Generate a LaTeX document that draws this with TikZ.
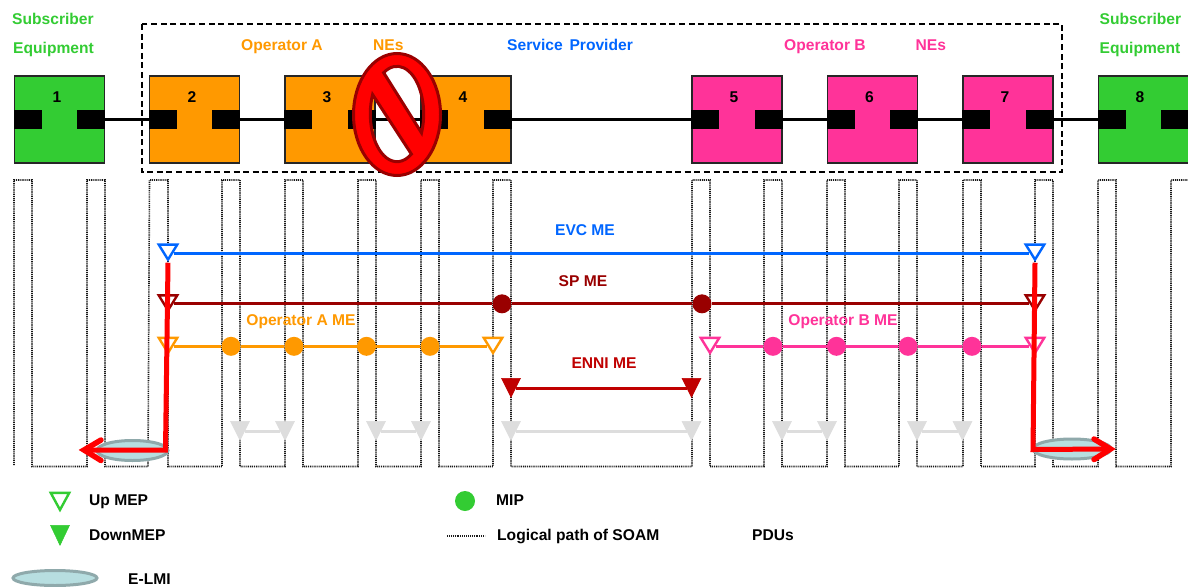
\documentclass[tikz,border=0pt]{standalone}
\usepackage{fontspec}
\setmainfont{Liberation Sans}
\usetikzlibrary{shapes.geometric}
\definecolor{cgreen}{HTML}{33CC33}
\definecolor{corange}{HTML}{FF9900}
\definecolor{cpink}{HTML}{FF3399}
\definecolor{cblue}{HTML}{0066FF}
\definecolor{cdark}{HTML}{990000}
\definecolor{cenni}{HTML}{C00000}
\definecolor{cgray}{HTML}{DDDDDD}
\definecolor{celfill}{HTML}{B7DEE0}
\definecolor{celdraw}{HTML}{8FA9AB}
\tikzset{
  lab/.style={anchor=base west,inner sep=0pt,font=\fontsize{15.6}{18}\selectfont\bfseries},
  clab/.style={lab,anchor=base},
  nebox/.style={draw=black!85,line width=1.8pt,minimum width=90pt,minimum height=87pt,inner sep=0pt},
  port/.style={fill=black,minimum width=28pt,minimum height=19pt,inner sep=0pt},
  link/.style={draw=black,line width=2.3pt},
  tri/.style={isosceles triangle,isosceles triangle stretches,shape border rotate=270,
     anchor=apex,minimum width=18.5pt,minimum height=15pt,inner sep=0pt},
  upmep/.style={tri,draw=#1,fill=white,line width=2.4pt},
  downmep/.style={tri,fill=#1,draw=#1,line width=.5pt,minimum width=19pt,minimum height=19pt},
  mip/.style={circle,fill=#1,minimum size=19pt,inner sep=0pt},
  meline/.style={draw=#1,line width=3pt},
  logical/.style={draw=black!90,line width=1.6pt,dash pattern=on 1pt off .9pt},
  elmi/.style={ellipse,draw=celdraw,fill=celfill,line width=3pt,inner sep=0pt},
  redpath/.style={draw=red,line width=5pt,line join=miter},
  redbarb/.style={draw=red,line width=5.5pt,line cap=round,line join=miter},
}
\begin{document}
\begin{tikzpicture}[x=1pt,y=-1pt]
\path[use as bounding box,clip] (0,0) rectangle (1188,586);
\fill[white] (0,0) rectangle (1188,586);

% logical path of SOAM PDUs
\draw[logical] (14,465) -- (14,180) -- (32,180) -- (32,466.5) -- (87,466.5) -- (87,180) -- (105,180) -- (105,466.5)
 -- (148,466.5) -- (149.5,180) -- (168,180) -- (168,466.5) -- (222,466.5) -- (222,180) -- (240,180) -- (240,466.5)
 -- (285,466.5) -- (285,180) -- (303,180) -- (303,466.5) -- (358,466.5) -- (358,180) -- (376,180) -- (376,466.5)
 -- (421,466.5) -- (421,180) -- (439,180) -- (439,466.5) -- (493,466.5) -- (493,180) -- (511,180) -- (511,466.5)
 -- (692,466.5) -- (692,180) -- (710,180) -- (710,466.5) -- (764,466.5) -- (764,180) -- (782,180) -- (782,466.5)
 -- (827,466.5) -- (827,180) -- (845,180) -- (845,466.5) -- (899,466.5) -- (899,180) -- (917,180) -- (917,466.5)
 -- (963,466.5) -- (963,180) -- (981,180) -- (981,466.5) -- (1035,466.5) -- (1035,180) -- (1053,180) -- (1053,466.5)
 -- (1098,466.5) -- (1098,180) -- (1116,180) -- (1116,466.5) -- (1171,466.5) -- (1171,180) -- (1188,180);

% network elements
\foreach \n/\cx/\col in {1/59.5/cgreen,2/194.5/corange,3/330/corange,4/466/corange,5/737/cpink,6/872.5/cpink,7/1008/cpink,8/1143.5/cgreen}{
  \node[nebox,fill=\col] (b\n) at (\cx,119.5) {};
  \node[port,anchor=west] (pl\n) at (b\n.west) {};
  \node[port,anchor=east] (pr\n) at (b\n.east) {};
}
\node[clab] (n1) at (57,102.5) {1};
\node[clab] (n2) at (192,102.5) {2};
\node[clab] (n3) at (327,102.5) {3};
\node[clab] (n4) at (463,102.5) {4};
\node[clab] (n5) at (734,102.5) {5};
\node[clab] (n6) at (869.5,102.5) {6};
\node[clab] (n7) at (1005,102.5) {7};
\node[clab] (n8) at (1140,102.5) {8};
\draw[link] (pr1) -- (pl2);
\draw[link] (pr2) -- (pl3);
\draw[link] (pr3) -- (pl4);
\draw[link] (pr4) -- (pl5);
\draw[link] (pr5) -- (pl6);
\draw[link] (pr6) -- (pl7);
\draw[link] (pr7) -- (pl8);

% service provider frame
\draw[black,line width=2pt,dash pattern=on 6pt off 3.6pt] (141.5,24) rectangle (1062,172);

% titles
\node[lab,text=cgreen] (t1) at (12,25) {Subscriber};
\node[lab,text=cgreen] (t2) at (13,53) {Equipment};
\node[lab,text=cgreen] (t3) at (1099.5,25) {Subscriber};
\node[lab,text=cgreen] (t4) at (1099.5,53) {Equipment};
\node[lab,text=corange] (t5) at (241,51) {Operator A};
\node[lab,text=corange] (t6) at (373,51) {NEs};
\node[lab,text=cblue] (t7) at (507,51) {Service \kern2.5pt Provider};
\node[lab,text=cpink] (t8) at (784,51) {Operator B};
\node[lab,text=cpink] (t9) at (915.5,51) {NEs};

% ME labels
\node[clab,text=cblue] (l1) at (585,235) {EVC ME};
\node[clab,text=cdark] (l2) at (583,286) {SP ME};
\node[clab,text=corange] (l3) at (301,325.5) {Operator A ME};
\node[clab,text=cpink] (l4) at (843,325.5) {Operator B ME};
\node[clab,text=cenni] (l5) at (604,368.5) {ENNI ME};

% EVC ME
\node[upmep=cblue] (ev1) at (168,262.75) {};
\node[upmep=cblue] (ev2) at (1035,262.75) {};
\draw[meline=cblue] (ev1.left side) -- (ev2.right side);

% SP ME
\node[upmep=cdark] (sp1) at (168,313.5) {};
\node[upmep=cdark] (sp2) at (1035,313.5) {};
\path (sp1.left side) node[coordinate] (spa) {};
\node[mip=cdark] (sp3) at (502,0 |- spa) {};
\node[mip=cdark] (sp4) at (702,0 |- spa) {};
\draw[meline=cdark] (sp1.left side) -- (sp3) -- (sp4) -- (sp2.right side);

% Operator A ME
\node[upmep=corange] (oa1) at (168,356) {};
\node[upmep=corange] (oa2) at (493,356) {};
\path (oa1.left side) node[coordinate] (oaa) {};
\node[mip=corange] (oa3) at (231,0 |- oaa) {};
\node[mip=corange] (oa4) at (294,0 |- oaa) {};
\node[mip=corange] (oa5) at (366.5,0 |- oaa) {};
\node[mip=corange] (oa6) at (430,0 |- oaa) {};
\draw[meline=corange] (oa1.left side) -- (oa3) -- (oa4) -- (oa5) -- (oa6) -- (oa2.right side);

% Operator B ME
\node[upmep=cpink] (ob1) at (710,356) {};
\node[upmep=cpink] (ob2) at (1035,356) {};
\path (ob1.left side) node[coordinate] (oba) {};
\node[mip=cpink] (ob3) at (773,0 |- oba) {};
\node[mip=cpink] (ob4) at (836.5,0 |- oba) {};
\node[mip=cpink] (ob5) at (908,0 |- oba) {};
\node[mip=cpink] (ob6) at (972,0 |- oba) {};
\draw[meline=cpink] (ob1.left side) -- (ob3) -- (ob4) -- (ob5) -- (ob6) -- (ob2.right side);

% ENNI ME
\node[downmep=cenni] (en1) at (511,398) {};
\node[downmep=cenni] (en2) at (691.5,398) {};
\draw[meline=cenni] (en1.left side) -- (en2.right side);

% grey down MEPs
\foreach \k/\a/\b in {1/240/285,2/376/421,3/511/691.5,4/782/827,5/917/962.5}{
  \node[downmep=cgray] (ga\k) at (\a,441) {};
  \node[downmep=cgray] (gb\k) at (\b,441) {};
  \draw[meline=cgray] (ga\k.left side) -- (gb\k.right side);
}

% E-LMI and red paths
\node[elmi,minimum width=71pt,minimum height=20pt] (el1) at (132.5,450.5) {};
\node[elmi,minimum width=78pt,minimum height=20pt] (el2) at (1072,449) {};
\coordinate (c1) at (165.5,450);
\coordinate (t1a) at (84,450);
\coordinate (b1u) at (101,440);
\coordinate (b1d) at (101,460.5);
\coordinate (c2) at (1033,449.5);
\coordinate (t2a) at (1110.5,449);
\coordinate (b2u) at (1094,439);
\coordinate (b2d) at (1094,459.5);
\draw[redpath] (ev1.apex) -- (c1) -- (t1a);
\draw[redbarb] (b1u) -- (t1a) -- (b1d);
\draw[redpath] (ev2.apex) -- (c2) -- (t2a);
\draw[redbarb] (b2u) -- (t2a) -- (b2d);

% prohibition sign
\path[fill=red,draw=cdark,line width=3pt,even odd rule]
  (397,114.5) ellipse [x radius=43.5,y radius=61]
  (397,114) ++(-120:26.7 and 47.7) arc[start angle=-120,end angle=23.3,x radius=26.7,y radius=47.7] -- cycle
  (397,114) ++(204:26.7 and 47.7) arc[start angle=204,end angle=57.3,x radius=26.7,y radius=47.7] -- cycle;

% legend
\node[upmep=cgreen,minimum height=17pt] (k1) at (60,513) {};
\node[lab] (k2) at (89,505) {Up MEP};
\node[downmep=cgreen,minimum height=20pt] (k3) at (60,546) {};
\node[lab] (k4) at (89,540) {DownMEP};
\node[mip=cgreen,minimum size=20pt] (k5) at (465,501) {};
\node[lab] (k6) at (496,505) {MIP};
\coordinate (k7a) at (447,536);
\coordinate (k7b) at (485,536);
\draw[logical] (k7a) -- (k7b);
\node[lab] (k8) at (497,540) {Logical path of SOAM};
\node[lab] (k9) at (752,540) {PDUs};
\node[elmi,minimum width=84pt,minimum height=15pt] (k10) at (55,578) {};
\node[lab] (k11) at (128,584.5) {E-LMI};
\end{tikzpicture}
\end{document}
